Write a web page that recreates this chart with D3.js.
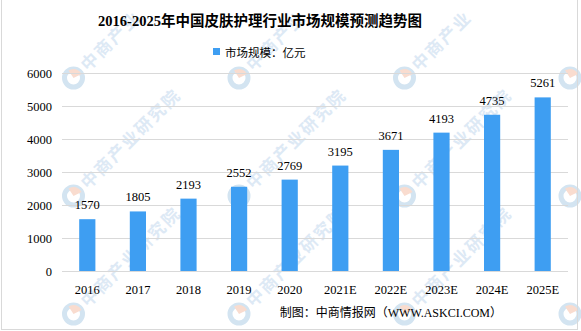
<!DOCTYPE html>
<html>
<head>
<meta charset="utf-8">
<script src="https://cdn.jsdelivr.net/npm/d3@7/dist/d3.min.js"></script>
<style>
  html, body { margin: 0; padding: 0; background: #fff; }
  svg { display: block; }
</style>
</head>
<body>
<svg id="chart" width="581" height="331"></svg>
<script>
// Market size of China's skin care industry, 2016-2025 (E = estimate), unit: 100 million yuan
const categories = ["2016", "2017", "2018", "2019", "2020", "2021E", "2022E", "2023E", "2024E", "2025E"];
const marketSize = [1570, 1805, 2193, 2552, 2769, 3195, 3671, 4193, 4735, 5261];
const yTicks = [0, 1000, 2000, 3000, 4000, 5000, 6000];
const titleText = "2016-2025年中国皮肤护理行业市场规模预测趋势图";
const legendText = "市场规模：亿元";
const sourceText = "制图：中商情报网（WWW.ASKCI.COM）";
const watermarkText = "中商产业研究院";

const W = 581, H = 331;
const margin = { left: 62, right: 13, top: 73, bottom: 60 };
const FONT = "'Liberation Serif', 'Noto Sans CJK SC', serif";
const CJK = "'Noto Sans CJK SC', 'Liberation Serif', sans-serif";

const svg = d3.select("#chart");

// faint diagonal watermark layer: logo + characters running up-right at 45°
const wm = svg.append("g").attr("class", "watermark");
const wmCols = d3.range(-92, 800, 165.5);
const wmRows = d3.range(-40, 480, 118);
const diag = Math.SQRT1_2;
const inside = (cx, cy, r) => cx - r >= 0 && cx + r <= W && cy - r >= 0 && cy + r <= H;
wmRows.forEach(wy => {
  wmCols.forEach(wx => {
    if (wx > -12 && wx < W + 12 && wy > -12 && wy < H + 12) {
      const g = wm.append("g").attr("transform", `translate(${wx},${wy}) rotate(-45)`);
      // round logo: blue ring with an orange wedge
      g.append("circle").attr("r", 9).attr("fill", "none")
        .attr("stroke", "#d3e4f1").attr("stroke-width", 5);
      g.append("path")
        .attr("d", d3.arc().innerRadius(0).outerRadius(9).startAngle(0.2).endAngle(1.9)())
        .attr("fill", "#f9dccf");
    }
    Array.from(watermarkText).forEach((ch, i) => {
      const d = 23 + i * 19;
      const cx = wx + d * diag, cy = wy - d * diag;
      if (!inside(cx, cy, 12)) return;
      wm.append("text")
        .attr("transform", `translate(${cx},${cy}) rotate(-45)`)
        .attr("text-anchor", "middle").attr("dy", "0.36em")
        .attr("font-family", CJK).attr("font-size", 17).attr("font-weight", 700)
        .attr("fill", "#dde9f5")
        .text(ch);
    });
  });
});

// outer frame
svg.append("rect")
  .attr("x", 1.5).attr("y", -1).attr("width", 576).attr("height", 330.5)
  .attr("fill", "none").attr("stroke", "#d9d9d9");

const x = d3.scaleBand()
  .domain(categories)
  .range([margin.left, W - margin.right])
  .paddingInner(0.68).paddingOuter(0.34);

const y = d3.scaleLinear()
  .domain([0, 6000])
  .range([271, margin.top]);

// horizontal gridlines
svg.append("g")
  .selectAll("line")
  .data(yTicks)
  .join("line")
  .attr("x1", margin.left).attr("x2", W - margin.right)
  .attr("y1", d => Math.round(y(d)) + 0.5).attr("y2", d => Math.round(y(d)) + 0.5)
  .attr("stroke", "#d9d9d9").attr("stroke-width", 1);

// y axis labels
const yAxis = d3.axisLeft(y).tickValues(yTicks).tickFormat(d3.format("d")).tickSize(0).tickPadding(10);
svg.append("g")
  .attr("transform", `translate(${margin.left},0)`)
  .call(yAxis)
  .call(g => g.select(".domain").remove())
  .call(g => g.selectAll("text")
    .attr("font-family", FONT).attr("font-size", 12.5).attr("fill", "#000"));

// x axis labels
const xAxis = d3.axisBottom(x).tickSize(0).tickPadding(14);
svg.append("g")
  .attr("transform", `translate(0,271)`)
  .call(xAxis)
  .call(g => g.select(".domain").remove())
  .call(g => g.selectAll("text")
    .attr("font-family", FONT).attr("font-size", 12.5).attr("fill", "#000"));

// bars
svg.append("g")
  .selectAll("rect")
  .data(marketSize)
  .join("rect")
  .attr("x", (d, i) => x(categories[i]))
  .attr("width", x.bandwidth())
  .attr("y", d => y(d))
  .attr("height", d => y(0) - y(d))
  .attr("fill", "#3e9ef2");

// value labels
svg.append("g")
  .selectAll("text")
  .data(marketSize)
  .join("text")
  .attr("x", (d, i) => x(categories[i]) + x.bandwidth() / 2)
  .attr("y", d => y(d) - 10)
  .attr("text-anchor", "middle")
  .attr("font-family", FONT).attr("font-size", 12.5).attr("fill", "#000")
  .text(d => d);

// title
svg.append("text")
  .attr("x", 260).attr("y", 26)
  .attr("text-anchor", "middle")
  .attr("font-family", FONT).attr("font-size", 14.5).attr("font-weight", 700)
  .attr("fill", "#000")
  .text(titleText);

// legend
svg.append("rect")
  .attr("x", 213).attr("y", 48).attr("width", 7).attr("height", 7)
  .attr("fill", "#3e9ef2");
svg.append("text")
  .attr("x", 225).attr("y", 57)
  .attr("font-family", CJK).attr("font-size", 11.5).attr("fill", "#000")
  .text(legendText);

// source note
svg.append("text")
  .attr("x", 502).attr("y", 317)
  .attr("text-anchor", "end")
  .attr("font-family", FONT).attr("font-size", 12).attr("fill", "#000")
  .text(sourceText);
</script>
</body>
</html>
